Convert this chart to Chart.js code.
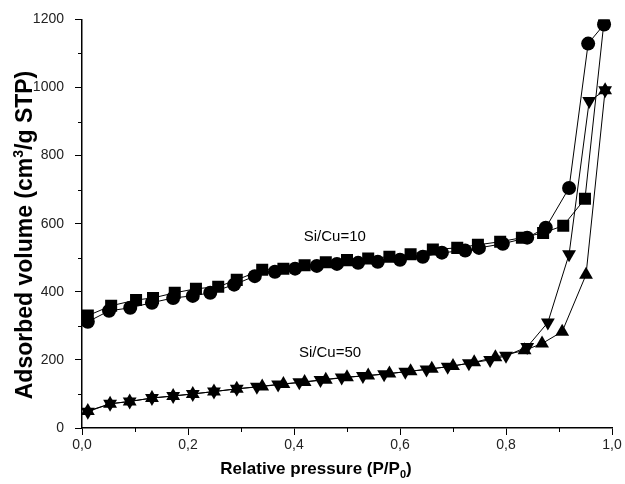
<!DOCTYPE html>
<html>
<head>
<meta charset="utf-8">
<script src="https://cdn.jsdelivr.net/npm/chart.js@4"></script>
<style>
  html, body { margin: 0; padding: 0; background: #fff; }
  #wrap { width: 625px; height: 484px; }
</style>
</head>
<body>
<div id="wrap"><canvas id="isoChart"></canvas></div>
<script>
// Si/Cu=10 - circles
const p10Circ = [0.011, 0.051, 0.091, 0.132, 0.172, 0.209, 0.242, 0.287, 0.326, 0.364, 0.402, 0.443, 0.481, 0.521, 0.558, 0.600, 0.643, 0.679, 0.723, 0.749, 0.794, 0.840, 0.875, 0.919, 0.955, 0.985];
const v10Circ = [312, 344, 353, 368, 382, 388, 397, 421, 446, 459, 468, 476, 482, 485, 488, 494, 503, 515, 521, 529, 541, 559, 588, 705, 1129, 1185];
// Si/Cu=10 - squares
const p10Sq = [0.011, 0.055, 0.102, 0.134, 0.175, 0.215, 0.257, 0.292, 0.340, 0.380, 0.420, 0.460, 0.500, 0.540, 0.580, 0.620, 0.662, 0.708, 0.747, 0.789, 0.830, 0.870, 0.908, 0.949, 0.985];
const v10Sq = [330, 359, 376, 382, 397, 409, 415, 435, 465, 468, 478, 487, 493, 498, 503, 510, 524, 529, 538, 547, 559, 573, 594, 673, 1195];
// Si/Cu=50 - down triangles
const p50Down = [0.011, 0.053, 0.090, 0.132, 0.172, 0.209, 0.249, 0.292, 0.330, 0.370, 0.410, 0.450, 0.490, 0.530, 0.570, 0.610, 0.650, 0.690, 0.730, 0.770, 0.800, 0.840, 0.879, 0.919, 0.957, 0.987];
const v50Down = [48, 71, 78, 88, 94, 100, 107, 115, 121, 128, 134, 141, 148, 153, 158, 165, 172, 180, 190, 200, 212, 238, 310, 510, 960, 992];
// Si/Cu=50 - up triangles
const p50Up = [0.011, 0.053, 0.090, 0.132, 0.172, 0.209, 0.249, 0.292, 0.340, 0.380, 0.420, 0.460, 0.500, 0.540, 0.580, 0.620, 0.660, 0.700, 0.740, 0.780, 0.835, 0.868, 0.906, 0.951, 0.987];
const v50Up = [50, 71, 78, 88, 94, 100, 107, 115, 122, 129, 135, 142, 149, 154, 160, 167, 174, 182, 193, 208, 228, 248, 283, 450, 992];

const xTicks = [0, 0.2, 0.4, 0.6, 0.8, 1.0];
const yTicks = [0, 200, 400, 600, 800, 1000, 1200];
const curveLabels = [
  { text: 'Si/Cu=10', x: 0.477, y: 560 },
  { text: 'Si/Cu=50', x: 0.468, y: 222 }
];
// axis titles as [text, 'n' normal | 'sub' | 'sup'] pieces
const xTitle = [['Relative pressure (P/P', 'n'], ['0', 'sub'], [')', 'n']];
const yTitle = [['Adsorbed volume (cm', 'n'], ['3', 'sup'], ['/g STP)', 'n']];

const FONT = '"Liberation Sans", Arial, sans-serif';
const toXY = (xs, ys) => xs.map((x, i) => ({ x: x, y: ys[i] }));

function series(label, xs, ys, style, radius, rot) {
  return {
    label: label,
    data: toXY(xs, ys),
    borderColor: '#000',
    backgroundColor: '#000',
    borderWidth: 1,
    pointStyle: style,
    pointRadius: radius,
    pointRotation: rot || 0,
    pointBorderWidth: 0,
    pointBackgroundColor: '#000',
    showLine: true,
    tension: 0
  };
}

// draw a title made of pieces, centred on (cx, cy), optionally rotated
function drawTitle(ctx, pieces, size, cx, cy, angle) {
  const small = Math.round(size * 0.62);
  const fontFor = t => 'bold ' + (t === 'n' ? size : small) + 'px ' + FONT;
  let total = 0;
  pieces.forEach(p => { ctx.font = fontFor(p[1]); total += ctx.measureText(p[0]).width; });
  ctx.save();
  ctx.translate(cx, cy);
  ctx.rotate(angle);
  ctx.textBaseline = 'alphabetic';
  ctx.textAlign = 'left';
  let x = -total / 2;
  const base = size * 0.36;
  pieces.forEach(p => {
    ctx.font = fontFor(p[1]);
    let dy = 0;
    if (p[1] === 'sub') dy = size * 0.22;
    if (p[1] === 'sup') dy = -size * 0.42;
    ctx.fillText(p[0], x, base + dy);
    x += ctx.measureText(p[0]).width;
  });
  ctx.restore();
}

// minor ticks (outside), curve labels and axis titles
const extras = {
  id: 'extras',
  afterDraw(chart) {
    const ctx = chart.ctx;
    const xs = chart.scales.x, ys = chart.scales.y;
    ctx.save();
    ctx.strokeStyle = '#000';
    ctx.lineWidth = 1;
    for (let i = 0; i < xTicks.length - 1; i++) {
      const px = Math.round(xs.getPixelForValue((xTicks[i] + xTicks[i + 1]) / 2)) + 0.5;
      ctx.beginPath();
      ctx.moveTo(px, xs.top);
      ctx.lineTo(px, xs.top + 4);
      ctx.stroke();
    }
    for (let i = 0; i < yTicks.length - 1; i++) {
      const py = Math.round(ys.getPixelForValue((yTicks[i] + yTicks[i + 1]) / 2)) + 0.5;
      ctx.beginPath();
      ctx.moveTo(ys.right, py);
      ctx.lineTo(ys.right - 4, py);
      ctx.stroke();
    }
    ctx.fillStyle = '#000';
    ctx.font = '15px ' + FONT;
    ctx.textAlign = 'center';
    ctx.textBaseline = 'middle';
    curveLabels.forEach(l => {
      ctx.fillText(l.text, xs.getPixelForValue(l.x), ys.getPixelForValue(l.y));
    });
    drawTitle(ctx, xTitle, 17, 316, 468, 0);
    drawTitle(ctx, yTitle, 23, 24, 235, -Math.PI / 2);
    ctx.restore();
  }
};

const ctx = document.getElementById('isoChart').getContext('2d');
new Chart(ctx, {
  type: 'scatter',
  data: {
    datasets: [
      series('Si/Cu=10 circles', p10Circ, v10Circ, 'circle', 7),
      series('Si/Cu=10 squares', p10Sq, v10Sq, 'rect', 8.5),
      series('Si/Cu=50 down', p50Down, v50Down, 'triangle', 8, 180),
      series('Si/Cu=50 up', p50Up, v50Up, 'triangle', 8)
    ]
  },
  options: {
    responsive: true,
    maintainAspectRatio: false,
    animation: false,
    layout: { padding: { top: 16, right: 13, left: 0, bottom: 0 } },
    plugins: {
      legend: { display: false },
      tooltip: { enabled: false }
    },
    scales: {
      x: {
        type: 'linear',
        min: 0,
        max: 1.0,
        afterFit(scale) { scale.height = 56; },
        afterBuildTicks(scale) { scale.ticks = xTicks.map(v => ({ value: v })); },
        grid: { drawOnChartArea: false, tickLength: 7, color: '#000', tickColor: '#000' },
        border: { display: true, color: '#000', width: 1.5 },
        ticks: {
          color: '#222',
          padding: 2,
          maxRotation: 0,
          font: { family: FONT, size: 14 },
          callback: v => v.toFixed(1).replace('.', ',')
        }
      },
      y: {
        type: 'linear',
        min: 0,
        max: 1200,
        afterFit(scale) { scale.width = 82; },
        afterBuildTicks(scale) { scale.ticks = yTicks.map(v => ({ value: v })); },
        grid: { drawOnChartArea: false, tickLength: 7, color: '#000', tickColor: '#000' },
        border: { display: true, color: '#000', width: 1.5 },
        ticks: {
          color: '#222',
          padding: 11,
          font: { family: FONT, size: 14 },
          callback: v => String(v)
        }
      }
    }
  },
  plugins: [extras]
});
</script>
</body>
</html>
